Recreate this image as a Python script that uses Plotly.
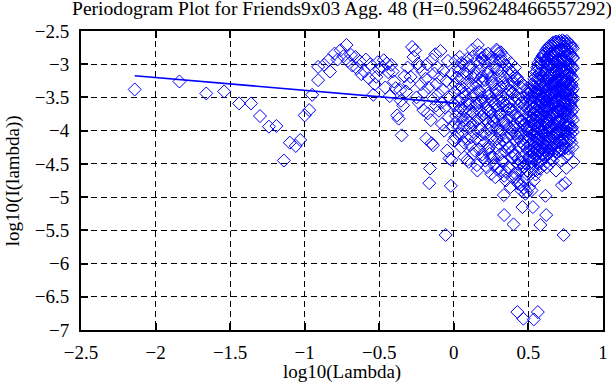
import plotly.graph_objects as go

# ---- data (log10 frequency, log10 periodogram) ----
low_x = [-2.14, -1.84, -1.66, -1.54, -1.44, -1.36, -1.30, -1.24, -1.19, -1.14, -1.10, -1.06, -1.03,
         -1.00, -0.97, -0.95, -0.91, -0.91, -0.87, -0.84, -0.83, -0.80, -0.78, -0.76, -0.74, -0.72,
         -0.71, -0.69, -0.68, -0.66, -0.65, -0.63, -0.62, -0.60, -0.59, -0.57, -0.56, -0.54, -0.53,
         -0.52, -0.51, -0.50]
low_y = [-3.38, -3.26, -3.44, -3.41, -3.59, -3.59, -3.78, -3.94, -3.93, -4.45, -4.18, -4.23, -4.14,
         -3.77, -3.69, -3.46, -3.24, -3.04, -3.01, -2.94, -3.11, -2.84, -2.93, -2.79, -2.88, -2.71,
         -2.95, -2.86, -3.02, -2.89, -3.06, -2.96, -3.15, -3.11, -2.93, -3.21, -3.00, -3.46, -3.30,
         -3.19, -2.97, -3.08]

mid_x = [-0.48, -0.47, -0.46, -0.45, -0.44, -0.43, -0.42, -0.41, -0.40, -0.39, -0.38, -0.37, -0.36,
         -0.355, -0.35, -0.34, -0.33, -0.32, -0.31, -0.30, -0.29, -0.28, -0.27, -0.26, -0.25, -0.24,
         -0.235, -0.23, -0.22, -0.21, -0.205, -0.20, -0.19, -0.185, -0.18, -0.175, -0.17, -0.165,
         -0.16, -0.155, -0.15, -0.145, -0.14, -0.135, -0.13, -0.125, -0.12, -0.115, -0.11, -0.105,
         -0.10, -0.095, -0.09, -0.085, -0.08, -0.075, -0.07, -0.065, -0.06, -0.055, -0.05, -0.045,
         -0.04, -0.035, -0.03, -0.025, -0.02, -0.017, -0.015, -0.01, -0.005, 0.0]
mid_y = [-3.04, -2.94, -3.35, -2.99, -3.12, -3.48, -3.01, -3.11, -3.26, -3.36, -3.77, -3.82, -3.39,
         -3.55, -4.07, -3.62, -3.18, -3.41, -3.05, -3.29, -3.19, -2.74, -2.89, -2.79, -3.50, -2.99,
         -3.58, -3.04, -3.30, -3.11, -3.69, -3.42, -3.22, -4.12, -3.00, -3.74, -3.35, -4.79,
         -4.57, -3.84, -4.19, -2.93, -4.22, -3.52, -3.14, -2.85, -3.62, -3.30, -3.05, -3.45,
         -3.70, -3.20, -2.80, -3.58, -3.90, -3.38, -3.10, -4.00, -3.65, -5.57, -3.25, -4.30,
         -2.95, -3.80, -4.42, -3.50, -4.83, -4.44, -3.15, -3.95, -3.60, -4.15]

a_x = [0.005, 0.01, 0.015, 0.02, 0.025, 0.03, 0.035, 0.04, 0.045, 0.05, 0.055, 0.06, 0.065, 0.07,
       0.075, 0.08, 0.085, 0.09, 0.095, 0.10, 0.105, 0.11, 0.115, 0.12, 0.125, 0.13, 0.135, 0.14,
       0.145, 0.15, 0.155, 0.16, 0.165, 0.17, 0.175, 0.18, 0.185, 0.19, 0.195, 0.20, 0.112, 0.138,
       0.158, 0.172, 0.188]
a_y = [-3.42, -2.95, -3.78, -3.20, -4.05, -3.55, -3.10, -2.89, -3.66, -4.25, -3.35, -3.85, -3.00, -4.40,
       -3.48, -3.72, -3.15, -4.44, -3.60, -4.47, -3.05, -3.70, -4.10, -3.30, -2.78, -3.90, -3.45, -4.30,
       -3.18, -3.62, -4.52, -2.71, -3.82, -3.40, -2.98, -4.15, -3.55, -3.25, -4.40, -3.75, -3.95, -3.12,
       -4.60, -3.58, -2.92]

b_x = [0.205, 0.21, 0.213, 0.218, 0.222, 0.226, 0.23, 0.234, 0.238, 0.242, 0.246, 0.25, 0.254, 0.258,
       0.262, 0.266, 0.27, 0.274, 0.278, 0.282, 0.286, 0.29, 0.294, 0.298, 0.24, 0.255, 0.265, 0.275,
       0.285, 0.295]
b_y = [-3.35, -4.05, -2.86, -3.65, -4.55, -3.15, -3.88, -3.48, -4.25, -2.95, -3.72, -4.65, -3.28, -3.95,
       -3.55, -4.40, -3.05, -3.80, -4.70, -3.38, -2.78, -4.12, -3.62, -2.84, -4.35, -3.18, -3.85, -4.50,
       -3.45, -4.00]

c_x = [0.302, 0.305, 0.308, 0.311, 0.314, 0.317, 0.32, 0.323, 0.326, 0.329, 0.332, 0.335, 0.337, 0.34,
       0.343, 0.346, 0.349, 0.352, 0.355, 0.358, 0.361, 0.364, 0.367, 0.37, 0.373, 0.376, 0.379, 0.382,
       0.385, 0.388, 0.391, 0.394, 0.397, 0.40, 0.337, 0.315, 0.345, 0.38]
c_y = [-3.55, -4.20, -2.95, -3.75, -4.60, -3.35, -4.00, -3.10, -4.45, -3.62, -3.88, -4.97, -5.27, -4.30,
       -3.20, -3.70, -4.75, -3.45, -4.10, -3.92, -3.30, -4.55, -3.14, -3.80, -4.25, -3.58, -4.85, -3.40,
       -4.05, -3.68, -4.40, -3.25, -3.95, -5.41, -4.68, -2.82, -2.90, -2.98]

d_x = [0.402, 0.405, 0.408, 0.411, 0.414, 0.417, 0.42, 0.423, 0.426, 0.426, 0.429, 0.432, 0.435, 0.438,
       0.441, 0.444, 0.447, 0.45, 0.453, 0.456, 0.459, 0.46, 0.462, 0.465, 0.466, 0.468, 0.471, 0.474,
       0.477, 0.48, 0.483, 0.486, 0.489, 0.492, 0.495, 0.498, 0.41, 0.43, 0.45, 0.47]
d_y = [-3.30, -3.90, -4.35, -3.55, -4.70, -3.75, -4.15, -3.20, -4.50, -6.73, -3.95, -4.80, -3.62, -4.25,
       -3.45, -4.60, -4.05, -3.85, -4.90, -3.70, -4.40, -5.15, -3.50, -4.20, -6.83, -4.75, -3.92, -4.48,
       -3.60, -4.95, -4.10, -3.80, -4.65, -3.42, -4.30, -4.00, -3.05, -4.05, -3.35, -4.55]

e_x = [0.501, 0.503, 0.505, 0.507, 0.509, 0.511, 0.513, 0.515, 0.517, 0.519, 0.521, 0.523, 0.525, 0.527,
       0.529, 0.53, 0.531, 0.533, 0.535, 0.536, 0.537, 0.539, 0.541, 0.543, 0.545, 0.547, 0.549, 0.551,
       0.553, 0.555, 0.557, 0.559, 0.561, 0.563, 0.563, 0.565, 0.567, 0.569, 0.571, 0.573, 0.575, 0.577,
       0.579, 0.58, 0.581, 0.583, 0.585, 0.587, 0.589, 0.591, 0.593, 0.595, 0.597, 0.599]
e_y = [-3.45, -4.10, -4.85, -3.70, -4.40, -3.95, -3.38, -4.65, -4.20, -3.60, -4.90, -3.85, -4.30, -3.30,
       -4.55, -5.15, -3.75, -4.05, -3.50, -6.84, -4.75, -3.22, -4.45, -3.90, -3.65, -4.25, -3.12, -4.60,
       -3.80, -3.40, -4.15, -3.05, -4.35, -3.70, -6.73, -3.95, -2.98, -4.50, -3.55, -4.10, -3.25, -3.85,
       -4.30, -5.42, -3.45, -2.92, -4.00, -3.62, -4.45, -3.18, -3.78, -2.88, -4.20, -3.50]

f_x = [0.601, 0.603, 0.605, 0.607, 0.609, 0.611, 0.613, 0.614, 0.615, 0.617, 0.619, 0.619, 0.621, 0.623,
       0.625, 0.627, 0.629, 0.631, 0.633, 0.635, 0.637, 0.639, 0.641, 0.643, 0.645, 0.647, 0.649, 0.651,
       0.653, 0.655, 0.657, 0.659, 0.661, 0.663, 0.665, 0.667, 0.669, 0.671, 0.673, 0.675, 0.677, 0.679,
       0.681, 0.683, 0.685, 0.687, 0.689, 0.691, 0.693, 0.695, 0.697, 0.699, 0.62, 0.64, 0.66, 0.68,
       0.61, 0.65, 0.67, 0.69]
f_y = [-3.35, -4.05, -2.85, -3.70, -4.40, -3.10, -3.90, -4.98, -3.55, -4.25, -2.95, -5.27, -3.80, -4.55,
       -3.25, -3.62, -4.15, -3.00, -3.45, -4.35, -2.80, -3.95, -3.68, -4.50, -3.15, -3.85, -2.90, -4.20,
       -3.52, -3.30, -4.00, -2.72, -3.75, -4.45, -3.40, -3.05, -4.10, -3.60, -2.88, -3.92, -4.30, -3.20,
       -3.50, -2.66, -4.60, -3.82, -3.10, -4.05, -3.38, -2.95, -3.70, -4.25, -3.48, -3.22, -3.58, -3.32,
       -3.65, -3.42, -3.72, -3.28]

g_x = [0.701, 0.703, 0.705, 0.707, 0.709, 0.711, 0.713, 0.715, 0.717, 0.719, 0.721, 0.723, 0.725, 0.727,
       0.729, 0.731, 0.733, 0.735, 0.736, 0.737, 0.739, 0.741, 0.743, 0.745, 0.747, 0.747, 0.749, 0.751,
       0.753, 0.754, 0.755, 0.757, 0.759, 0.761, 0.763, 0.765, 0.767, 0.769, 0.771, 0.773, 0.775, 0.777,
       0.779, 0.781, 0.783, 0.785, 0.787, 0.789, 0.791, 0.793, 0.795, 0.797, 0.799, 0.802, 0.71, 0.72,
       0.73, 0.74, 0.75, 0.76, 0.77, 0.78, 0.79, 0.705, 0.725, 0.745, 0.765, 0.785, 0.715, 0.755]
g_y = [-3.15, -3.85, -2.68, -4.30, -3.50, -3.05, -4.05, -3.70, -2.80, -3.40, -4.45, -3.25, -4.82, -3.62,
       -2.95, -3.90, -3.32, -4.20, -5.57, -2.74, -3.55, -4.00, -3.18, -3.78, -4.79, -2.88, -3.45, -4.12,
       -3.08, -4.56, -2.70, -3.68, -3.95, -3.22, -2.78, -4.35, -3.52, -3.00, -3.88, -3.30, -4.15, -2.84,
       -3.60, -3.10, -4.05, -2.76, -3.72, -3.40, -3.95, -3.05, -4.25, -2.90, -3.50, -4.47, -3.35, -3.48,
       -3.12, -3.58, -3.25, -3.65, -3.38, -3.20, -3.30, -3.62, -3.02, -3.42, -3.15, -3.55, -2.98, -3.35]

# denser body of the cloud, read column by column (x of column, y values in it)
left_lobe_cols_x = [0.01, 0.03, 0.05, 0.07, 0.09, 0.11, 0.13, 0.15, 0.17, 0.19, 0.21, 0.23, 0.25,
                    0.27, 0.29, 0.31, 0.33, 0.35, 0.37, 0.39, 0.41, 0.43, 0.45, 0.47, 0.49]
left_lobe_cols_y = [
    [-3.30, -3.62, -3.88, -4.10], [-3.05, -3.38, -3.70, -3.95], [-2.98, -3.22, -3.52, -3.80, -4.05],
    [-3.12, -3.44, -3.66, -3.92, -4.18], [-2.92, -3.28, -3.55, -3.84, -4.12],
    [-3.02, -3.36, -3.60, -3.88, -4.22], [-2.88, -3.20, -3.48, -3.74, -4.02, -4.35],
    [-2.95, -3.30, -3.58, -3.85, -4.12], [-2.82, -3.10, -3.42, -3.70, -3.98, -4.28],
    [-2.90, -3.18, -3.50, -3.78, -4.06, -4.36], [-2.96, -3.24, -3.56, -3.82, -4.18, -4.45],
    [-2.84, -3.12, -3.44, -3.70, -3.98, -4.28], [-2.90, -3.22, -3.52, -3.78, -4.08, -4.40],
    [-2.98, -3.30, -3.60, -3.88, -4.16, -4.52], [-2.80, -3.08, -3.40, -3.68, -3.96, -4.26, -4.58],
    [-2.88, -3.18, -3.48, -3.76, -4.06, -4.36], [-2.96, -3.28, -3.56, -3.84, -4.14, -4.48],
    [-3.02, -3.34, -3.62, -3.90, -4.20, -4.62], [-3.08, -3.38, -3.68, -3.96, -4.26, -4.56],
    [-3.12, -3.44, -3.72, -4.00, -4.32, -4.70], [-3.18, -3.48, -3.76, -4.04, -4.38, -4.64],
    [-3.24, -3.52, -3.80, -4.10, -4.42, -4.76], [-3.28, -3.58, -3.86, -4.16, -4.48, -4.82],
    [-3.32, -3.62, -3.90, -4.22, -4.54, -4.86], [-3.36, -3.66, -3.94, -4.26, -4.60, -4.92],
]

right_lobe_cols_x = [0.508, 0.518, 0.528, 0.538, 0.548, 0.558, 0.568, 0.578, 0.588, 0.598, 0.608,
                     0.618, 0.628, 0.638, 0.648, 0.658, 0.668, 0.678, 0.688, 0.698, 0.708, 0.718,
                     0.728, 0.738, 0.748, 0.758, 0.768, 0.778, 0.788, 0.798]
right_lobe_cols_y = [
    [-3.52, -3.71, -3.86, -4.03, -4.21, -4.38],
    [-3.41, -3.57, -3.79, -3.93, -4.12, -4.29, -4.47],
    [-3.33, -3.49, -3.66, -3.82, -3.99, -4.16, -4.34, -4.58],
    [-3.27, -3.42, -3.58, -3.75, -3.91, -4.08, -4.26, -4.41],
    [-3.19, -3.37, -3.51, -3.69, -3.84, -4.02, -4.19, -4.37, -4.66],
    [-3.11, -3.29, -3.44, -3.61, -3.77, -3.96, -4.11, -4.28, -4.48],
    [-3.04, -3.21, -3.38, -3.53, -3.72, -3.88, -4.04, -4.22, -4.39],
    [-2.99, -3.14, -3.31, -3.47, -3.63, -3.81, -3.97, -4.13, -4.31, -4.57],
    [-2.93, -3.09, -3.26, -3.41, -3.57, -3.74, -3.92, -4.07, -4.26],
    [-2.87, -3.03, -3.19, -3.36, -3.52, -3.69, -3.85, -4.01, -4.18, -4.36],
    [-2.84, -2.98, -3.15, -3.31, -3.46, -3.63, -3.79, -3.96, -4.12, -4.29, -4.51],
    [-2.79, -2.94, -3.09, -3.27, -3.42, -3.58, -3.73, -3.91, -4.07, -4.23, -4.38],
    [-2.76, -2.91, -3.06, -3.21, -3.37, -3.55, -3.71, -3.87, -4.02, -4.19, -4.35],
    [-2.73, -2.87, -3.03, -3.18, -3.35, -3.49, -3.66, -3.83, -3.99, -4.14, -4.31],
    [-2.71, -2.85, -3.01, -3.16, -3.31, -3.47, -3.64, -3.79, -3.95, -4.11, -4.27, -4.43],
    [-2.69, -2.83, -2.97, -3.13, -3.29, -3.44, -3.61, -3.76, -3.92, -4.08, -4.25],
    [-2.67, -2.81, -2.95, -3.11, -3.26, -3.42, -3.58, -3.74, -3.89, -4.05, -4.21, -4.37],
    [-2.68, -2.82, -2.96, -3.12, -3.27, -3.43, -3.57, -3.73, -3.88, -4.04, -4.19],
    [-2.66, -2.80, -2.94, -3.09, -3.24, -3.40, -3.55, -3.71, -3.86, -4.02, -4.17, -4.33],
    [-2.67, -2.81, -2.97, -3.11, -3.27, -3.41, -3.56, -3.72, -3.87, -4.03, -4.22],
    [-2.65, -2.79, -2.93, -3.08, -3.23, -3.39, -3.54, -3.69, -3.85, -4.00, -4.16, -4.31],
    [-2.66, -2.80, -2.95, -3.10, -3.25, -3.40, -3.55, -3.70, -3.86, -4.01, -4.18],
    [-2.64, -2.78, -2.92, -3.07, -3.22, -3.37, -3.53, -3.68, -3.83, -3.99, -4.14, -4.29],
    [-2.66, -2.81, -2.96, -3.11, -3.26, -3.41, -3.57, -3.72, -3.88, -4.04, -4.21],
    [-2.67, -2.82, -2.97, -3.12, -3.28, -3.43, -3.59, -3.74, -3.90, -4.06, -4.26],
    [-2.65, -2.79, -2.94, -3.09, -3.24, -3.39, -3.55, -3.70, -3.85, -4.01, -4.17, -4.38],
    [-2.68, -2.83, -2.98, -3.13, -3.29, -3.44, -3.60, -3.75, -3.91, -4.08, -4.27],
    [-2.70, -2.85, -3.00, -3.15, -3.31, -3.46, -3.62, -3.77, -3.93, -4.12],
    [-2.72, -2.87, -3.02, -3.18, -3.33, -3.49, -3.64, -3.80, -3.97, -4.18],
    [-2.76, -2.91, -3.06, -3.22, -3.37, -3.53, -3.68, -3.84, -4.02],
]

hurst = 0.596248466557292
fit_intercept = -3.585
fit_x = [-2.14, 0.02]

x_ticks = [-2.5, -2, -1.5, -1, -0.5, 0, 0.5, 1]
x_tick_text = ["\u22122.5", "\u22122", "\u22121.5", "\u22121", "\u22120.5", "0", "0.5", "1"]
y_ticks = [-7, -6.5, -6, -5.5, -5, -4.5, -4, -3.5, -3, -2.5]
y_tick_text = ["\u22127", "\u22126.5", "\u22126", "\u22125.5", "\u22125", "\u22124.5", "\u22124",
               "\u22123.5", "\u22123", "\u22122.5"]

title_text = "Periodogram Plot for Friends9x03 Agg. 48 (H=0.596248466557292)"

# ---- build figure ----
xs = low_x + mid_x + a_x + b_x + c_x + d_x + e_x + f_x + g_x
ys = low_y + mid_y + a_y + b_y + c_y + d_y + e_y + f_y + g_y
for cx, cys in zip(left_lobe_cols_x + right_lobe_cols_x, left_lobe_cols_y + right_lobe_cols_y):
    xs += [cx] * len(cys)
    ys += cys

slope = 1 - 2 * hurst
fit_y = [fit_intercept + slope * v for v in fit_x]

FONT = "Liberation Serif, Times New Roman, serif"
PW, PH = 527, 299   # plot area size in px

fig = go.Figure()
fig.add_trace(go.Scatter(
    x=xs, y=ys, mode="markers",
    marker=dict(symbol="diamond-open", size=10, color="#0000ff", line=dict(width=1, color="#0000ff")),
    showlegend=False, hoverinfo="skip"))
fig.add_trace(go.Scatter(
    x=fit_x, y=fit_y, mode="lines", line=dict(color="#0000ff", width=1.6),
    showlegend=False, hoverinfo="skip"))

axis_common = dict(
    showline=True, linecolor="black", linewidth=2, mirror="allticks",
    ticks="inside", ticklen=7, tickwidth=2, tickcolor="black",
    showgrid=True, gridcolor="black", gridwidth=1, griddash="6px,4px",
    zeroline=False, tickfont=dict(family=FONT, size=19, color="black"),
)

fig.update_xaxes(range=[-2.5, 1], tickvals=x_ticks, ticktext=x_tick_text,
                 ticklabelstandoff=4, **axis_common)
fig.update_yaxes(range=[-7, -2.5], tickvals=y_ticks, ticktext=y_tick_text,
                 ticklabelstandoff=6, **axis_common)

fig.update_layout(
    width=611, height=385,
    margin=dict(l=81, r=3, t=31, b=55),
    plot_bgcolor="white", paper_bgcolor="white",
    font=dict(family=FONT, size=19, color="black"),
    annotations=[
        dict(text=title_text, xref="paper", yref="paper", x=(70 - 81) / PW, y=1 + (31 - 9) / PH,
             xanchor="left", yanchor="middle", showarrow=False,
             font=dict(family=FONT, size=19.6, color="black")),
        dict(text="log10(Lambda)", xref="paper", yref="paper", x=0.5, y=-(372 - 330) / PH,
             xanchor="center", yanchor="middle", showarrow=False,
             font=dict(family=FONT, size=19, color="black")),
        dict(text="log10(I(lambda))", xref="paper", yref="paper", x=-(81 - 12) / PW, y=0.5,
             xanchor="center", yanchor="middle", showarrow=False, textangle=-90,
             font=dict(family=FONT, size=19, color="black")),
    ],
)

fig.write_html("out.html", config={"displayModeBar": False},
               post_script="document.body.style.margin='0';")
